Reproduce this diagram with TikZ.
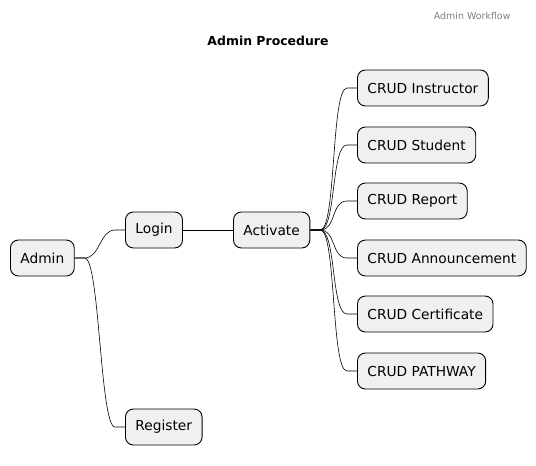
\documentclass[tikz,border=0pt]{standalone}
\usepackage{fontspec}
\setmainfont{DejaVu Sans}
\usetikzlibrary{positioning}
\begin{document}
\begin{tikzpicture}[x=1bp,y=-1bp]
        \tikzstyle{idea} = [rectangle, rounded corners=8bp, minimum height=36bp, inner xsep=10bp, text centered, draw=black, line width=0.9bp, fill=black!6, anchor=west, font=\fontsize{13.8}{16}\selectfont]
        \tikzstyle{branch} = [line width=0.6bp]
        \useasboundingbox (0,0) rectangle (536,466);
        \node (header) [anchor=east, text=black!50, font=\fontsize{9.5}{11}\selectfont] at (514,16) {Admin Workflow};
        \node (title) [font=\bfseries\fontsize{12.5}{15}\selectfont] at (268,41) {Admin Procedure};

        \node (admin) [idea] at (10,258) {Admin};
        \node (login) [idea] at (125,230) {Login};
        \node (activate) [idea] at (233,230) {Activate};
        \node (register) [idea] at (125,427) {Register};
        \node (instructor) [idea] at (357,88) {CRUD Instructor};
        \node (student) [idea] at (357,145) {CRUD Student};
        \node (report) [idea] at (357,201) {CRUD Report};
        \node (announce) [idea] at (357,258) {CRUD Announcement};
        \node (certificate) [idea] at (357,314) {CRUD Certificate};
        \node (pathway) [idea] at (357,371) {CRUD PATHWAY};

        \draw [branch] (admin.east) -- +(10,0) .. controls +(15,0) and +(-15,0) .. ([xshift=-10bp]login.west) -- (login.west);
        \draw [branch] (admin.east) -- +(10,0) .. controls +(15,0) and +(-15,0) .. ([xshift=-10bp]register.west) -- (register.west);
        \draw [branch] (login.east) -- (activate.west);
        \draw [branch] (activate.east) -- +(10,0) .. controls +(16,0) and +(-16,0) .. ([xshift=-10bp]instructor.west) -- (instructor.west);
        \draw [branch] (activate.east) -- +(10,0) .. controls +(16,0) and +(-16,0) .. ([xshift=-10bp]student.west) -- (student.west);
        \draw [branch] (activate.east) -- +(10,0) .. controls +(16,0) and +(-16,0) .. ([xshift=-10bp]report.west) -- (report.west);
        \draw [branch] (activate.east) -- +(10,0) .. controls +(16,0) and +(-16,0) .. ([xshift=-10bp]announce.west) -- (announce.west);
        \draw [branch] (activate.east) -- +(10,0) .. controls +(16,0) and +(-16,0) .. ([xshift=-10bp]certificate.west) -- (certificate.west);
        \draw [branch] (activate.east) -- +(10,0) .. controls +(16,0) and +(-16,0) .. ([xshift=-10bp]pathway.west) -- (pathway.west);

    \end{tikzpicture}
\end{document}
